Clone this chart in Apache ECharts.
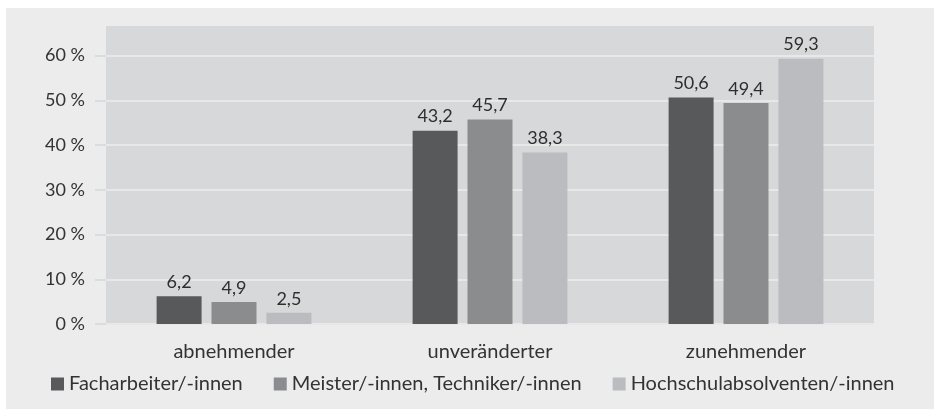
<!DOCTYPE html>
<html>
<head>
<meta charset="utf-8">
<script src="https://cdn.jsdelivr.net/npm/echarts@6/dist/echarts.min.js"></script>
<style>
  html, body { margin: 0; padding: 0; background: #fff; }
  #chart { position: absolute; left: 6px; top: 8px; width: 928px; height: 401px; }
</style>
</head>
<body>
<div id="chart"></div>
<script>
const categories = ['abnehmender', 'unveränderter', 'zunehmender']
const seriesNames = ['Facharbeiter/-innen', 'Meister/-innen, Techniker/-innen', 'Hochschulabsolventen/-innen']
const facharbeiter = [6.2, 43.2, 50.6]
const meister = [4.9, 45.7, 49.4]
const hochschul = [2.5, 38.3, 59.3]
const yTicks = [0, 10, 20, 30, 40, 50, 60]

const colors = ['#58595b', '#8b8c8e', '#bbbcbf']
const font = 'Lato, "Open Sans", sans-serif'

const chart = echarts.init(document.getElementById('chart'))

function bar(name, data, color) {
  return {
    name: name,
    type: 'bar',
    xAxisIndex: 1,
    yAxisIndex: 1,
    data: data,
    barWidth: 45,
    barGap: '22%',
    itemStyle: { color: color },
    label: {
      show: true,
      position: 'top',
      distance: 5,
      color: '#2e2e2e',
      fontSize: 18,
      fontFamily: font,
      formatter: p => String(p.value).replace('.', ',')
    }
  }
}

chart.setOption({
  animation: false,
  backgroundColor: '#ececec',
  textStyle: { fontFamily: font },
  grid: [
    // grey plot panel, a bit taller than the 60 % line
    { left: 100, right: 60, top: 18, bottom: 85, show: true, backgroundColor: '#d7d8da', borderWidth: 0 },
    // the actual value grid
    { left: 100, right: 60, top: 47.5, bottom: 85 }
  ],
  legend: {
    left: 45,
    top: 366,
    padding: 0,
    itemWidth: 13,
    itemHeight: 13,
    itemGap: 31,
    icon: 'rect',
    textStyle: { fontSize: 20, color: '#333', fontFamily: font },
    data: seriesNames
  },
  xAxis: [
    { gridIndex: 0, type: 'category', show: false },
    {
      gridIndex: 1,
      type: 'category',
      data: categories,
      axisLine: { show: false },
      axisTick: { show: false },
      axisLabel: { margin: 18, fontSize: 20, color: '#333', fontFamily: font }
    }
  ],
  yAxis: [
    { gridIndex: 0, type: 'value', show: false },
    {
      gridIndex: 1,
      type: 'value',
      min: 0,
      max: 60,
      interval: 10,
      axisLine: { show: false },
      axisTick: { show: true, length: 11, lineStyle: { color: '#dcdcdc', width: 2 } },
      splitLine: { lineStyle: { color: '#e8e8e9', width: 2 } },
      axisLabel: {
        margin: 21,
        fontSize: 18,
        color: '#333',
        fontFamily: font,
        formatter: v => yTicks.includes(v) ? v + ' %' : ''
      }
    }
  ],
  series: [
    bar(seriesNames[0], facharbeiter, colors[0]),
    bar(seriesNames[1], meister, colors[1]),
    bar(seriesNames[2], hochschul, colors[2])
  ]
})
</script>
</body>
</html>
